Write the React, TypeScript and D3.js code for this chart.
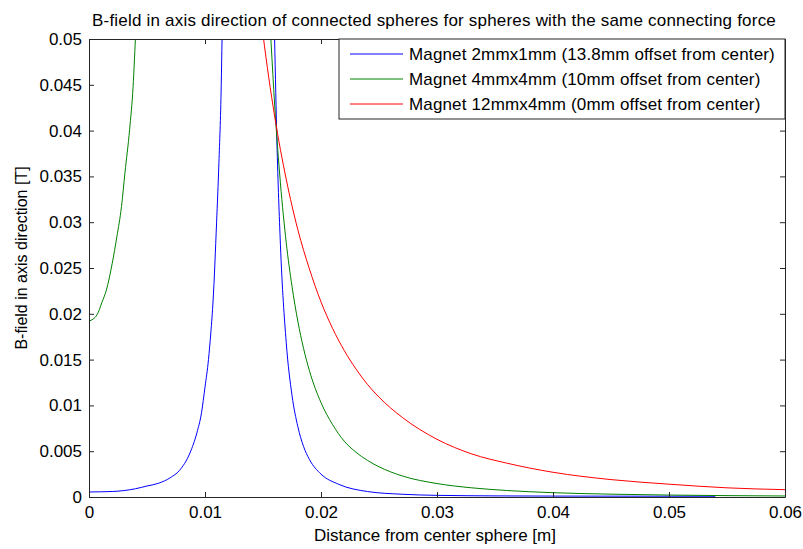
import React, { useRef, useEffect } from "react";
import * as d3 from "d3";

// tick values / labels
const xTicks = [0, 0.01, 0.02, 0.03, 0.04, 0.05, 0.06];
const xTickLabels = ["0", "0.01", "0.02", "0.03", "0.04", "0.05", "0.06"];
const yTicks = [0, 0.005, 0.01, 0.015, 0.02, 0.025, 0.03, 0.035, 0.04, 0.045, 0.05];
const yTickLabels = ["0", "0.005", "0.01", "0.015", "0.02", "0.025", "0.03", "0.035", "0.04", "0.045", "0.05"];

const seriesNames = [
  "Magnet 2mmx1mm (13.8mm offset from center)",
  "Magnet 4mmx4mm (10mm offset from center)",
  "Magnet 12mmx4mm (0mm offset from center)",
];
const seriesColors = ["#0000ff", "#008000", "#ff0000"];

// [distance m, B-field T] — values above 0.05 are clipped by the axes
const blueData: [number, number][] = [
  [0, 0.00055], [0.002, 0.0006], [0.003, 0.0007], [0.004, 0.0009], [0.005, 0.0012],
  [0.006, 0.0015], [0.007, 0.0021], [0.0078, 0.0029], [0.0087, 0.0048], [0.0093, 0.007],
  [0.0097, 0.0092], [0.01, 0.012], [0.0103, 0.015], [0.0105, 0.0179], [0.0107, 0.0215],
  [0.011, 0.03], [0.0112, 0.0365], [0.0114, 0.045], [0.01147, 0.05], [0.0118, 0.065],
  [0.0125, 0.09], [0.015, 0.09], [0.0158, 0.062], [0.016, 0.05], [0.0162, 0.0388],
  [0.0165, 0.0276], [0.017, 0.0169], [0.0175, 0.0111], [0.018, 0.0077], [0.0185, 0.0055],
  [0.019, 0.0041], [0.02, 0.0025], [0.0215, 0.0014], [0.024, 0.0006], [0.027, 0.0003],
  [0.03, 0.00018], [0.035, 0.00012], [0.04, 0.0001], [0.054, 0.00008],
];
const greenData: [number, number][] = [
  [0, 0.0192], [0.0007, 0.0199], [0.0011, 0.0212], [0.0015, 0.0226], [0.002, 0.0255],
  [0.0024, 0.0284], [0.0028, 0.0317], [0.0031, 0.0354], [0.0035, 0.0401], [0.0038, 0.0448],
  [0.004, 0.05], [0.0045, 0.065], [0.008, 0.12], [0.012, 0.12], [0.015, 0.065],
  [0.0157, 0.0495], [0.016, 0.0429], [0.0165, 0.0343], [0.017, 0.0278], [0.0175, 0.023],
  [0.018, 0.0192], [0.0185, 0.0162], [0.019, 0.0138], [0.02, 0.0103], [0.021, 0.0079],
  [0.022, 0.0061], [0.023, 0.0049], [0.024, 0.004], [0.025, 0.0033], [0.027, 0.0023],
  [0.03, 0.00147], [0.033, 0.001], [0.036, 0.00071], [0.04, 0.00047], [0.045, 0.00031],
  [0.05, 0.00021], [0.055, 0.00015], [0.06, 0.00011],
];
const redData: [number, number][] = [
  [0.014, 0.062], [0.015, 0.0505], [0.016, 0.0416], [0.017, 0.0347], [0.018, 0.0292],
  [0.019, 0.0249], [0.02, 0.0213], [0.021, 0.0184], [0.022, 0.016], [0.023, 0.014],
  [0.024, 0.0123], [0.025, 0.0109], [0.027, 0.0087], [0.03, 0.0063], [0.033, 0.0047],
  [0.036, 0.0037], [0.04, 0.0027], [0.045, 0.0019], [0.05, 0.0014], [0.055, 0.001],
  [0.06, 0.0008],
];

const W = 803;
const H = 549;

export default function App() {
  const ref = useRef<SVGSVGElement>(null);

  useEffect(() => {
    document.body.style.margin = "0";
    const m = { left: 89, right: 18, top: 39, bottom: 52 };
    const iw = W - m.left - m.right;
    const ih = H - m.top - m.bottom;
    const font = "'Liberation Sans', Arial, sans-serif";
    const fs = "17px";
    const axisColor = "#262626";

    const svg = d3.select(ref.current);
    svg.selectAll("*").remove();
    svg.append("rect").attr("width", W).attr("height", H).attr("fill", "#fff");

    const x = d3.scaleLinear().domain([0, 0.06]).range([0, iw]);
    const y = d3.scaleLinear().domain([0, 0.05]).range([ih, 0]);

    const g = svg.append("g").attr("transform", `translate(${m.left},${m.top})`);

    g.append("clipPath").attr("id", "plotclip")
      .append("rect").attr("width", iw).attr("height", ih);

    // curves
    const line = d3.line<[number, number]>()
      .x(d => x(d[0]))
      .y(d => y(d[1]))
      .curve(d3.curveMonotoneX);
    const allSeries = [blueData, greenData, redData];
    g.append("g").attr("clip-path", "url(#plotclip)")
      .selectAll("path")
      .data(allSeries)
      .enter()
      .append("path")
      .attr("d", d => line(d))
      .attr("fill", "none")
      .attr("stroke", (_, i) => seriesColors[i])
      .attr("stroke-width", 1);

    // axes (MATLAB box with inward ticks)
    const styleAxis = (sel: d3.Selection<SVGGElement, unknown, null, undefined>) => {
      sel.selectAll(".domain").attr("stroke", axisColor);
      sel.selectAll(".tick line").attr("stroke", axisColor);
      sel.selectAll("text").attr("fill", "#000").style("font-family", font).style("font-size", fs);
    };
    const xl = (v: d3.NumberValue) => xTickLabels[xTicks.indexOf(v as number)];
    const yl = (v: d3.NumberValue) => yTickLabels[yTicks.indexOf(v as number)];

    g.append("g").attr("transform", `translate(0,${ih})`)
      .call(d3.axisBottom(x).tickValues(xTicks).tickFormat(xl).tickSizeInner(-5).tickSizeOuter(0).tickPadding(9))
      .call(styleAxis);
    g.append("g")
      .call(d3.axisTop(x).tickValues(xTicks).tickFormat(() => "").tickSizeInner(-5).tickSizeOuter(0))
      .call(styleAxis);
    g.append("g")
      .call(d3.axisLeft(y).tickValues(yTicks).tickFormat(yl).tickSizeInner(-5).tickSizeOuter(0).tickPadding(7))
      .call(styleAxis);
    g.append("g").attr("transform", `translate(${iw},0)`)
      .call(d3.axisRight(y).tickValues(yTicks).tickFormat(() => "").tickSizeInner(-5).tickSizeOuter(0))
      .call(styleAxis);

    // legend
    const lg = g.append("g").attr("transform", `translate(${iw - 446},0)`);
    lg.append("rect").attr("width", 446).attr("height", 80)
      .attr("fill", "#fff").attr("stroke", axisColor);
    const rows = lg.selectAll("g.row").data(seriesNames).enter().append("g")
      .attr("transform", (_, i) => `translate(0,${15 + i * 25})`);
    rows.append("line").attr("x1", 11).attr("x2", 64)
      .attr("stroke", (_, i) => seriesColors[i]);
    rows.append("text").attr("x", 70).attr("dy", "0.35em")
      .style("font-family", font).style("font-size", fs).style("letter-spacing", "0.15px")
      .text(d => d);

    // title & labels
    svg.append("text").attr("x", m.left + iw / 2 - 3).attr("y", 26)
      .attr("text-anchor", "middle")
      .style("font-family", font).style("font-size", fs).style("letter-spacing", "0.2px")
      .text("B-field in axis direction of connected spheres for spheres with the same connecting force");
    svg.append("text").attr("x", m.left + iw / 2 - 2).attr("y", 541)
      .attr("text-anchor", "middle")
      .style("font-family", font).style("font-size", fs)
      .text("Distance from center sphere [m]");
    svg.append("text")
      .attr("transform", `translate(27,258) rotate(-90)`)
      .attr("text-anchor", "middle")
      .style("font-family", font).style("font-size", "16px")
      .text("B-field in axis direction [T]");
  }, []);

  return <svg ref={ref} width={W} height={H} style={{ display: "block" }} />;
}
